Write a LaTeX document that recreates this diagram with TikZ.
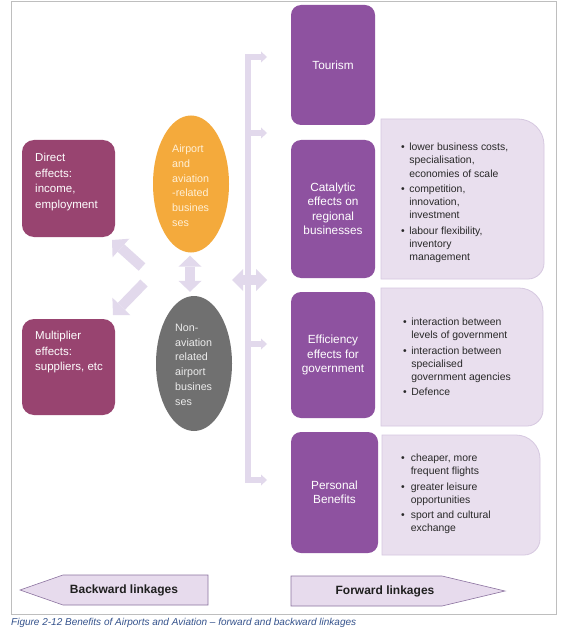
\documentclass[tikz,border=0pt]{standalone}
\usepackage{fontspec}
\setmainfont{Liberation Sans}
\usetikzlibrary{arrows.meta,shapes.geometric}
\definecolor{maroonbox}{RGB}{152,68,112}
\definecolor{purplebox}{RGB}{142,82,160}
\definecolor{orangeell}{RGB}{244,170,60}
\definecolor{grayell}{RGB}{112,112,112}
\definecolor{lavfill}{RGB}{233,223,238}
\definecolor{lavdraw}{RGB}{214,200,224}
\definecolor{conn}{RGB}{226,217,236}
\definecolor{linkfill}{RGB}{231,219,237}
\definecolor{linkdraw}{RGB}{140,115,160}
\definecolor{captionblue}{RGB}{52,82,140}
\definecolor{framegray}{RGB}{190,190,190}
\definecolor{bullettext}{RGB}{40,40,40}
\newcommand{\lavbox}[6]{%
  \draw[lavshape] (#1,#4) -- (#1,#2) -- ({#3-#5},#2)
    .. controls ({#3-0.45*#5},#2) and (#3,{#2+0.45*#5}) .. (#3,{#2+#5})
    -- (#3,{#4-#6})
    .. controls (#3,{#4-0.45*#6}) and ({#3-0.45*#6},#4) .. ({#3-#6},#4) -- cycle;}
\begin{document}
\begin{tikzpicture}[x=1pt,y=-1pt,
  pbox/.style={fill=purplebox, rounded corners=10pt, inner sep=0pt, align=center,
    text=white, font=\fontsize{11.8}{14.5}\selectfont, minimum width=84pt},
  mbox/.style={fill=maroonbox, rounded corners=12pt, inner sep=0pt,
    minimum width=93pt},
  mtext/.style={anchor=west, inner sep=0pt, align=left, text=white,
    font=\fontsize{11.5}{15.5}\selectfont},
  etext/.style={anchor=west, inner sep=0pt, align=left,
    font=\fontsize{10.7}{14.8}\selectfont},
  lavshape/.style={fill=lavfill, draw=lavdraw, line width=0.8pt},
  listtext/.style={anchor=west, inner sep=0pt, align=left, text=bullettext,
    font=\fontsize{10.4}{13.3}\selectfont},
  fat/.style={draw=conn, line width=10pt},
  branch/.style={draw=conn, line width=5.5pt,
    -{Triangle[width=11pt,length=6pt,line width=0pt]}},
  linkarrow/.style={fill=linkfill, draw=linkdraw, line width=0.6pt},
  linktext/.style={inner sep=0pt, font=\fontsize{12}{14}\selectfont\bfseries, text=black!88}
]
\useasboundingbox (0,0) rectangle (564,631);
\fill[white] (0,0) rectangle (564,631);
\draw[framegray, line width=0.8pt] (11,1) rectangle (556,614);

% left boxes
\node[mbox, minimum height=97pt] (direct) at (68.5,188.5) {};
\node[mtext] (directT) at (35,182) {Direct\\effects:\\income,\\employment};
\node[mbox, minimum height=96pt] (mult) at (68.5,367) {};
\node[mtext] (multT) at (35,352.5) {Multiplier\\effects:\\suppliers, etc};

% ellipses
\node[ellipse, fill=orangeell, inner sep=0pt, minimum width=76pt, minimum height=137pt] (air) at (191,184) {};
\node[etext, text={rgb,255:red,255;green,240;blue,214}] (airT) at (172,185.7)
  {Airport\\and\\aviation\\-related\\busines\\ses};
\node[ellipse, fill=grayell, inner sep=0pt, minimum width=76pt, minimum height=135pt] (non) at (194,363.5) {};
\node[etext, text={rgb,255:red,236;green,236;blue,236}] (nonT) at (175,364.7)
  {Non-\\aviation\\related\\airport\\busines\\ses};

% connectors in the middle
\coordinate (vaTop) at ([xshift=-1pt,yshift=-3pt]air.south);
\coordinate (vaBot) at (vaTop |- non.north);
\draw[fat, {Triangle[width=23pt,length=11pt,line width=0pt]}-{Triangle[width=23pt,length=11pt,line width=0pt]}]
  (vaTop) -- ([yshift=4pt]vaBot);
\coordinate (hubA) at (142,267);
\coordinate (hubB) at (144,283);
\coordinate (tipA) at (112,240);
\coordinate (tipB) at (113,315);
\draw[fat, -{Triangle[width=25pt,length=12pt,line width=0pt]}] (hubA) -- (tipA);
\draw[fat, -{Triangle[width=25pt,length=12pt,line width=0pt]}] (hubB) -- (tipB);

% vertical distribution line
\coordinate (vTop) at (248,54.25);
\coordinate (vBot) at (248,482.75);
\draw[draw=conn, line width=5.5pt] (vTop) -- (vBot);
\coordinate (b1) at (248,57);
\coordinate (b2) at (248,133);
\coordinate (b4) at (248,344);
\coordinate (b5) at (248,480);
\coordinate (e1) at (267,57);
\coordinate (e2) at (267,133);
\coordinate (e4) at (267,344);
\coordinate (e5) at (267,480);
\draw[branch] (b1) -- (e1);
\draw[branch] (b2) -- (e2);
\draw[branch] (b4) -- (e4);
\draw[branch] (b5) -- (e5);
\coordinate (hL) at (232,280);
\coordinate (hR) at (267,280);
\draw[fat, {Triangle[width=22pt,length=11pt,line width=0pt]}-{Triangle[width=22pt,length=11pt,line width=0pt]}] (hL) -- (hR);

% right purple boxes
\node[pbox, minimum height=120pt] (tour) at (333,65) {Tourism};
\node[pbox, minimum height=138pt] (cat) at (333,209) {Catalytic\\effects on\\regional\\businesses};
\node[pbox, minimum height=126pt] (eff) at (333,355) {Efficiency\\effects for\\government};
\node[pbox, minimum height=121pt, minimum width=87pt] (pers) at (334.5,492.5) {Personal\\Benefits};

% lavender boxes with lists
\lavbox{381}{119}{544}{279}{26}{16}
\node[listtext] (catL) at (401,203) {%
  \begin{tabular}{@{}l@{\hspace{4.5pt}}l@{}}
  \textbullet & lower business costs,\\
  & specialisation,\\
  & economies of scale\\[2pt]
  \textbullet & competition,\\
  & innovation,\\
  & investment\\[2pt]
  \textbullet & labour flexibility,\\
  & inventory\\
  & management
  \end{tabular}};
\lavbox{381}{288}{543}{426}{24}{16}
\node[listtext] (effL) at (403,358) {%
  \begin{tabular}{@{}l@{\hspace{4.5pt}}l@{}}
  \textbullet & interaction between\\
  & levels of government\\[2pt]
  \textbullet & interaction between\\
  & specialised\\
  & government agencies\\[2pt]
  \textbullet & Defence
  \end{tabular}};
\lavbox{382}{435}{540}{555}{24}{16}
\node[listtext] (persL) at (401,494) {%
  \begin{tabular}{@{}l@{\hspace{6pt}}l@{}}
  \textbullet & cheaper, more\\
  & frequent flights\\[2pt]
  \textbullet & greater leisure\\
  & opportunities\\[2pt]
  \textbullet & sport and cultural\\
  & exchange
  \end{tabular}};

% linkage arrows
\draw[linkarrow] (20,590) -- (63,575) -- (208,575) -- (208,605) -- (63,605) -- cycle;
\node[linktext] (back) at (124,590) {Backward linkages};
\draw[linkarrow] (291,576) -- (442,576) -- (505,591) -- (442,606) -- (291,606) -- cycle;
\node[linktext] (fwd) at (385,591) {Forward linkages};

% caption
\node[anchor=base west, inner sep=0pt, text=captionblue, font=\fontsize{10}{12}\selectfont\itshape]
  (cap) at (11,625) {Figure 2-12 Benefits of Airports and Aviation – forward and backward linkages};
\end{tikzpicture}
\end{document}
